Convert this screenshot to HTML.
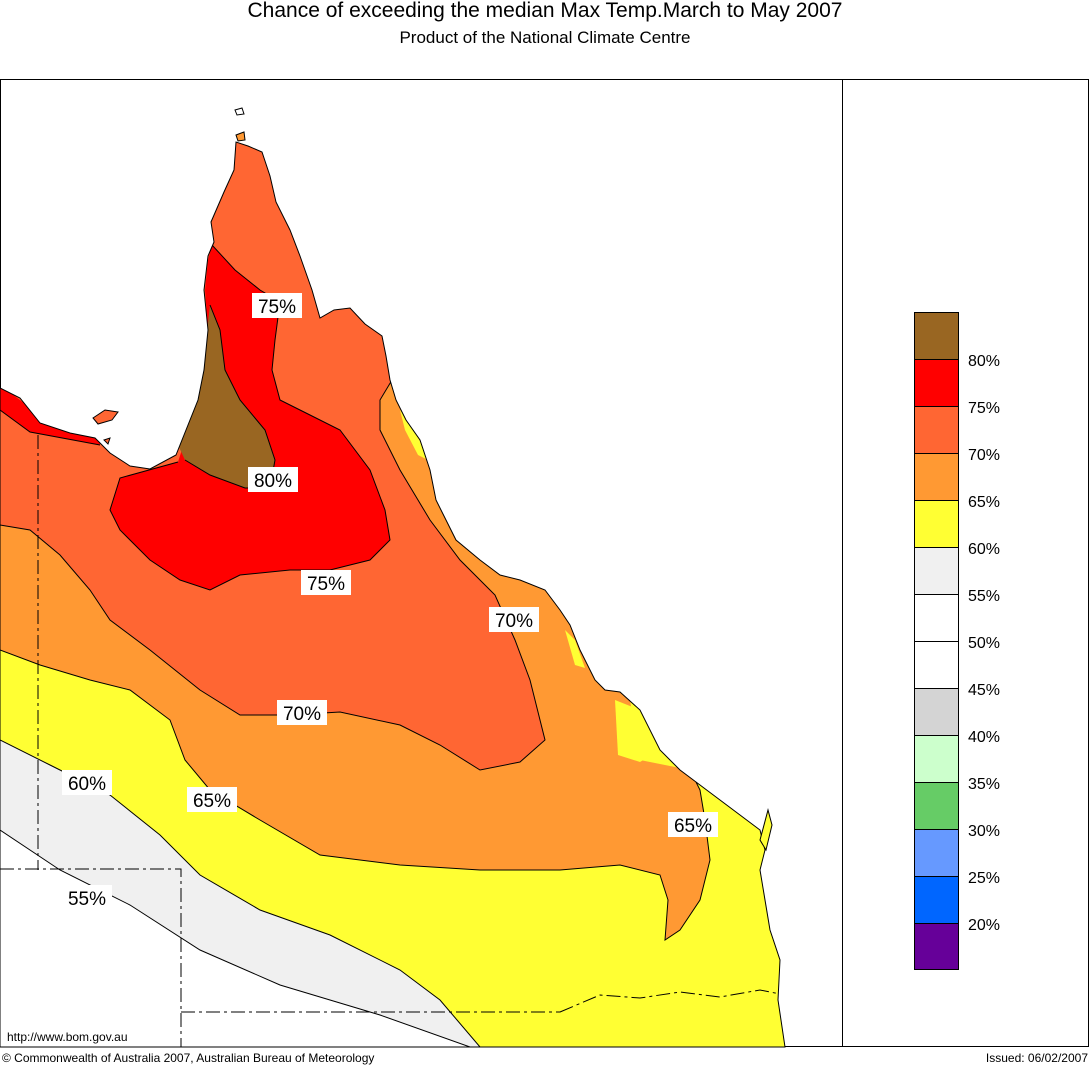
<!DOCTYPE html>
<html><head><meta charset="utf-8"><style>
body{margin:0;background:#fff;width:1090px;height:1066px;overflow:hidden;font-family:"Liberation Sans",Arial,sans-serif}
</style></head><body>
<svg width="1090" height="1066" xmlns="http://www.w3.org/2000/svg" font-family="Liberation Sans, Arial, sans-serif">
<defs>
<clipPath id="land"><path id="landp" d="M0,388 L20,398 L40,423 L70,433 L95,438 L110,453 L130,466 L150,469 L176,455 L184,435 L198,400 L204,370 L208,330 L204,290 L208,256 L214,242 L211,222 L224,192 L234,170 L236,142 L248,146 L262,152 L270,176 L276,202 L290,230 L300,256 L312,290 L320,318 L334,310 L350,308 L365,324 L382,336 L386,356 L390,380 L396,400 L406,420 L420,440 L430,470 L436,500 L446,520 L456,540 L480,560 L500,575 L520,580 L545,590 L560,610 L570,625 L580,650 L595,680 L605,690 L620,692 L640,710 L660,750 L680,770 L700,785 L720,800 L740,815 L760,830 L765,850 L760,870 L765,900 L770,930 L780,960 L778,1000 L785,1047 L0,1047 Z"/></clipPath>
</defs>
<rect x="0.5" y="79.5" width="1088" height="967" fill="#fff" stroke="#000"/>
<line x1="842.5" y1="79" x2="842.5" y2="1047" stroke="#000"/>
<g clip-path="url(#land)">
<rect x="0" y="79" width="842" height="968" fill="#fff"/>
<path d="M0,830 L60,870 L130,905 L200,950 L280,985 L380,1015 L470,1047 L842,1047 L842,79 L0,79Z" fill="#f0f0f0"/>
<path d="M0,740 L50,765 L110,795 L160,835 L200,875 L260,910 L330,935 L400,970 L440,1000 L480,1047 L842,1047 L842,79 L0,79Z" fill="#ffff33"/>
<path d="M0,650 L40,665 L90,680 L130,690 L170,720 L185,760 L210,790 L260,820 L320,855 L400,865 L480,870 L560,870 L620,865 L660,875 L668,900 L665,940 L680,930 L700,900 L710,860 L705,820 L700,790 L690,770 L640,760 L630,700 L842,700 L842,79 L0,79Z" fill="#ff9933"/>
<path d="M615,700 L640,710 L660,750 L640,762 L618,755 Z" fill="#ffff33"/>
<path d="M400,410 L415,430 L428,460 L418,455 L405,430Z" fill="#ffff33"/>
<path d="M565,630 L575,640 L585,668 L575,665Z" fill="#ffff33"/>
<path d="M0,525 L30,530 L60,555 L90,590 L110,620 L150,650 L200,690 L240,715 L290,715 L340,712 L400,725 L440,745 L480,770 L520,762 L545,740 L530,680 L515,640 L495,595 L460,560 L430,520 L400,470 L380,430 L380,400 L392,380 L392,79 L0,79Z" fill="#ff6633"/>
<path d="M0,385 L40,415 L100,430 L100,445 L30,432 L0,410Z" fill="#ff0000"/>
<path d="M212,245 L235,270 L260,290 L280,302 L275,340 L272,370 L280,400 L310,415 L340,430 L370,470 L385,510 L390,540 L370,560 L330,570 L290,570 L240,575 L210,590 L180,580 L150,560 L120,530 L110,510 L120,478 L178,462 L185,440 L200,400 L205,370 L208,330 L205,290 L208,260Z" fill="#ff0000"/>
<path d="M210,305 L220,330 L225,370 L240,400 L265,430 L275,460 L270,488 L245,488 L210,475 L185,460 L178,445 L190,420 L200,390 L205,350Z" fill="#996622"/>
<g fill="none" stroke="#000" stroke-width="1">
<path d="M0,830 L60,870 L130,905 L200,950 L280,985 L380,1015 L470,1047"/>
<path d="M0,740 L50,765 L110,795 L160,835 L200,875 L260,910 L330,935 L400,970 L440,1000 L480,1047"/>
<path d="M0,650 L40,665 L90,680 L130,690 L170,720 L185,760 L210,790 L260,820 L320,855 L400,865 L480,870 L560,870 L620,865 L660,875 L668,900 L665,940 L680,930 L700,900 L710,860 L705,820 L700,790 L690,770"/>
<path d="M0,525 L30,530 L60,555 L90,590 L110,620 L150,650 L200,690 L240,715 L290,715 L340,712 L400,725 L440,745 L480,770 L520,762 L545,740 L530,680 L515,640 L495,595 L460,560 L430,520 L400,470 L380,430 L380,400 L392,380"/>
<path d="M212,245 L235,270 L260,290 L280,302 L275,340 L272,370 L280,400 L310,415 L340,430 L370,470 L385,510 L390,540 L370,560 L330,570 L290,570 L240,575 L210,590 L180,580 L150,560 L120,530 L110,510 L120,478 L178,462"/>
<path d="M210,305 L220,330 L225,370 L240,400 L265,430 L275,460 L270,488 L245,488 L210,475 L185,460"/>
<path d="M0,410 L30,432 L100,445"/>
</g>
<g fill="none" stroke="#000" stroke-dasharray="14,4,3,4">
<path d="M38,435 L38,870 M0,869 L181,869 L181,1047 M181,1012 L560,1012 M560,1012 L600,995 L640,998 L680,992 L720,997 L760,990 L785,995"/>
</g>
</g>
<use href="#landp" fill="none" stroke="#000"/>
<path d="M93,418 L105,410 L118,412 L112,420 L98,424Z" fill="#ff6633" stroke="#000"/>
<path d="M104,440 L110,438 L108,444Z" fill="#ff6633" stroke="#000"/>
<path d="M235,110 L242,108 L244,114 L237,115Z" fill="#fff" stroke="#000"/>
<path d="M236,135 L244,132 L245,140 L238,141Z" fill="#ff9933" stroke="#000"/>
<path d="M760,840 L768,810 L772,825 L766,850Z" fill="#ffff33" stroke="#000"/>
<g font-size="19" text-anchor="middle">
<rect x="252" y="293" width="50" height="25" fill="#fff"/><text x="277" y="313">75%</text>
<rect x="248" y="467" width="50" height="25" fill="#fff"/><text x="273" y="487">80%</text>
<rect x="301" y="570" width="50" height="25" fill="#fff"/><text x="326" y="590">75%</text>
<rect x="489" y="607" width="50" height="25" fill="#fff"/><text x="514" y="627">70%</text>
<rect x="277" y="700" width="50" height="25" fill="#fff"/><text x="302" y="720">70%</text>
<rect x="187" y="787" width="50" height="25" fill="#fff"/><text x="212" y="807">65%</text>
<rect x="62" y="770" width="50" height="25" fill="#fff"/><text x="87" y="790">60%</text>
<rect x="668" y="812" width="50" height="25" fill="#fff"/><text x="693" y="832">65%</text>
<rect x="62" y="885" width="50" height="25" fill="#fff"/><text x="87" y="905">55%</text>
</g>
<g stroke="#000">
<rect x="914.5" y="312.5" width="44" height="47" fill="#996622"/>
<rect x="914.5" y="359.5" width="44" height="47" fill="#ff0000"/>
<rect x="914.5" y="406.5" width="44" height="47" fill="#ff6633"/>
<rect x="914.5" y="453.5" width="44" height="47" fill="#ff9933"/>
<rect x="914.5" y="500.5" width="44" height="47" fill="#ffff33"/>
<rect x="914.5" y="547.5" width="44" height="47" fill="#f0f0f0"/>
<rect x="914.5" y="594.5" width="44" height="47" fill="#fff"/>
<rect x="914.5" y="641.5" width="44" height="47" fill="#fff"/>
<rect x="914.5" y="688.5" width="44" height="47" fill="#d4d4d4"/>
<rect x="914.5" y="735.5" width="44" height="47" fill="#ccffcc"/>
<rect x="914.5" y="782.5" width="44" height="47" fill="#66cc66"/>
<rect x="914.5" y="829.5" width="44" height="47" fill="#6699ff"/>
<rect x="914.5" y="876.5" width="44" height="47" fill="#0066ff"/>
<rect x="914.5" y="923.5" width="44" height="46" fill="#660099"/>
</g>
<g font-size="16">
<text x="968" y="366">80%</text><text x="968" y="413">75%</text><text x="968" y="460">70%</text>
<text x="968" y="507">65%</text><text x="968" y="554">60%</text><text x="968" y="601">55%</text>
<text x="968" y="648">50%</text><text x="968" y="695">45%</text><text x="968" y="742">40%</text>
<text x="968" y="789">35%</text><text x="968" y="836">30%</text><text x="968" y="883">25%</text>
<text x="968" y="930">20%</text>
</g>
<text x="545" y="17" font-size="21" text-anchor="middle">Chance of exceeding the median Max Temp.March to May 2007</text>
<text x="545" y="43" font-size="17" text-anchor="middle">Product of the National Climate Centre</text>
<text x="7" y="1041" font-size="12">http://www.bom.gov.au</text>
<text x="2" y="1062" font-size="12">© Commonwealth of Australia 2007, Australian Bureau of Meteorology</text>
<text x="1088" y="1062" font-size="12" text-anchor="end">Issued: 06/02/2007</text>
</svg>
</body></html>
